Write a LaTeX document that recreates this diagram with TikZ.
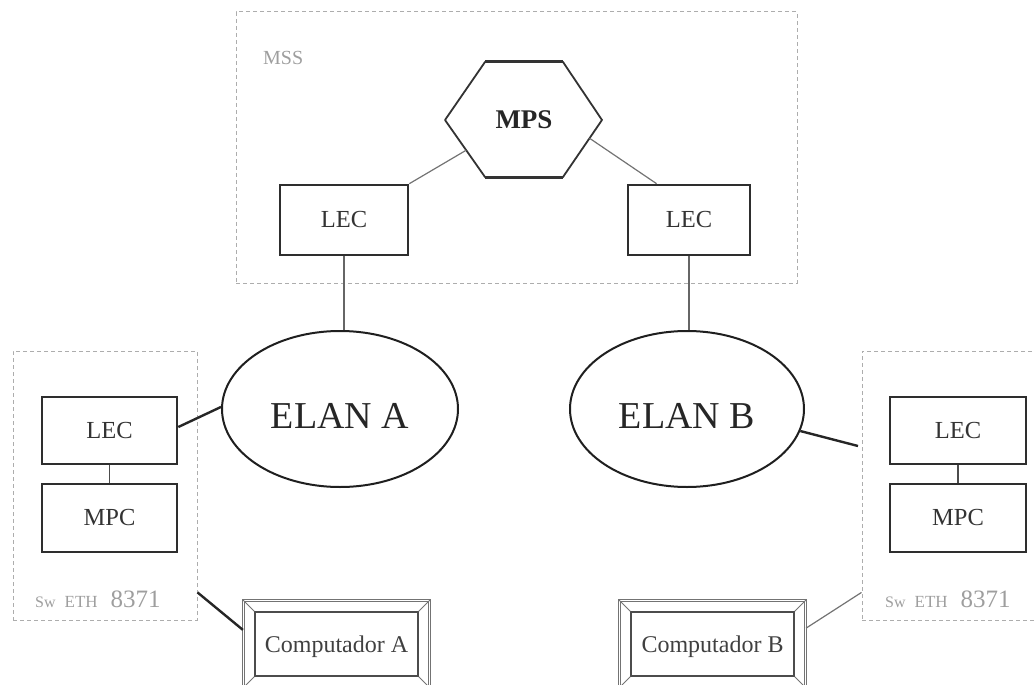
\documentclass[tikz,border=0pt]{standalone}
\usepackage{fontspec}
\setmainfont{Liberation Serif}
\usetikzlibrary{calc,fit,shapes.geometric}

\tikzset{
  unit/.style={draw=black!82, line width=2.6pt, inner sep=0pt,
    font=\fontsize{24.5}{28}\selectfont, text=black!80},
  zone/.style={draw=black!32, dash pattern=on 4pt off 3pt, line width=1pt, inner sep=0pt},
  zonelabel/.style={text=black!38, inner sep=0pt},
  lan/.style={ellipse, draw=black!88, line width=2pt, inner sep=0pt,
    minimum width=236pt, minimum height=156pt,
    font=\fontsize{38}{44}\selectfont, text=black!85, text height=39pt, text depth=0pt},
  thinlink/.style={draw=black!55, line width=1.2pt},
  midlink/.style={draw=black!60, line width=1.6pt},
  thicklink/.style={draw=black!85, line width=2.4pt},
  cpu/.style={draw=black!70, line width=1.5pt, inner sep=0pt,
    minimum width=163pt, minimum height=64pt,
    font=\fontsize{24}{28}\selectfont, text=black!75, text depth=0pt},
  cpuframe/.style={draw=black!55, double=white, double distance=1.2pt,
    line width=0.7pt, inner sep=11pt},
  bevel/.style={draw=black!55, line width=0.8pt},
  hexedge/.style={draw=black!80, line width=1.8pt, line join=round},
}

\newcommand{\swlabel}{{\fontsize{16}{18}\selectfont Sw}\hspace{9pt}{\fontsize{17}{20}\selectfont ETH}\hspace{13pt}{\fontsize{25}{28}\selectfont 8371}}

\begin{document}
\begin{tikzpicture}[x=1pt,y=-1pt]
\useasboundingbox (0,0) rectangle (1034,685);
\clip (0,0) rectangle (1034,685);

% MSS area
\node[zone, minimum width=561pt, minimum height=271pt] (mss) at (516.5,147.5) {};
\node[zonelabel, anchor=base west, font=\fontsize{20}{24}\selectfont] (msslabel) at (263,65) {MSS};

% MPS hexagon
\coordinate (hW)  at (445,120);
\coordinate (hTL) at (485,62);
\coordinate (hTR) at (563,62);
\coordinate (hE)  at (602,120);
\coordinate (hBR) at (563,177);
\coordinate (hBL) at (485,177);
\draw[hexedge] (hW) -- (hTL) -- (hTR) -- (hE) -- (hBR) -- (hBL) -- cycle;
\draw[hexedge, line width=3pt] (hTL) -- (hTR) (hBL) -- (hBR);
\node[font=\bfseries\fontsize{27}{32}\selectfont, text=black!85] (mps) at (524,120) {MPS};

% LECs inside MSS
\node[unit, minimum width=128pt, minimum height=70pt] (lecL) at (344,220) {LEC};
\node[unit, minimum width=122pt, minimum height=70pt] (lecR) at (689,220) {LEC};

% Emulated LANs
\node[lan] (elanA) at (340,409) {ELAN A};
\node[lan, minimum width=234pt] (elanB) at (687,409) {ELAN B};

% Left switch
\node[zone, minimum width=184pt, minimum height=269pt] (swA) at (105,485.5) {};
\node[unit, minimum width=135pt, minimum height=67pt] (lecA) at (109.5,430.5) {LEC};
\node[unit, minimum width=135pt, minimum height=68pt] (mpcA) at (109.5,518) {MPC};
\node[zonelabel, anchor=base west] (swAlabel) at (35,607) {\swlabel};

% Right switch
\node[zone, minimum width=178pt, minimum height=269pt] (swB) at (951,485.5) {};
\node[unit, minimum width=136pt, minimum height=67pt] (lecB) at (958,430.5) {LEC};
\node[unit, minimum width=136pt, minimum height=68pt] (mpcB) at (958,518) {MPC};
\node[zonelabel, anchor=base west] (swBlabel) at (885,607) {\swlabel};

% Computers
\node[cpu] (compA) at (336.5,644) {Computador A};
\node[cpuframe, fit=(compA)] (compAf) {};
\node[cpu] (compB) at (712.5,644) {Computador B};
\node[cpuframe, fit=(compB)] (compBf) {};
\foreach \c in {compA,compB}{
  \draw[bevel] (\c f.north west) -- (\c.north west);
  \draw[bevel] (\c f.north east) -- (\c.north east);
  \draw[bevel] (\c f.south west) -- (\c.south west);
  \draw[bevel] (\c f.south east) -- (\c.south east);
}

% Connectors
\draw[thinlink] (lecL.north east) -- ($(hW)!0.53!(hBL)$);
\draw[thinlink] ($(lecR.north west)!0.24!(lecR.north east)$) -- ($(hE)!0.32!(hBR)$);
\draw[midlink] (lecL.south) -- (lecL.south |- elanA.north);
\draw[midlink] (lecR.south) -- (lecR.south |- elanB.north);
\draw[draw=black!70, line width=1.4pt] (lecA.south) -- (mpcA.north);
\draw[draw=black!70, line width=1.4pt] (lecB.south) -- (mpcB.north);
\draw[thicklink] ($(lecA.north east)!0.45!(lecA.south east)$) -- (elanA.179);
\coordinate (elanBend) at (858,446);
\draw[thicklink] (elanB.-11) -- (elanBend);
\draw[thicklink] ($(swA.north east)!0.896!(swA.south east)$) -- ($(compAf.north west)!0.34!(compAf.south west)$);
\draw[thinlink] ($(compBf.north east)!0.32!(compBf.south east)$) -- ($(swB.north west)!0.896!(swB.south west)$);
\end{tikzpicture}
\end{document}
